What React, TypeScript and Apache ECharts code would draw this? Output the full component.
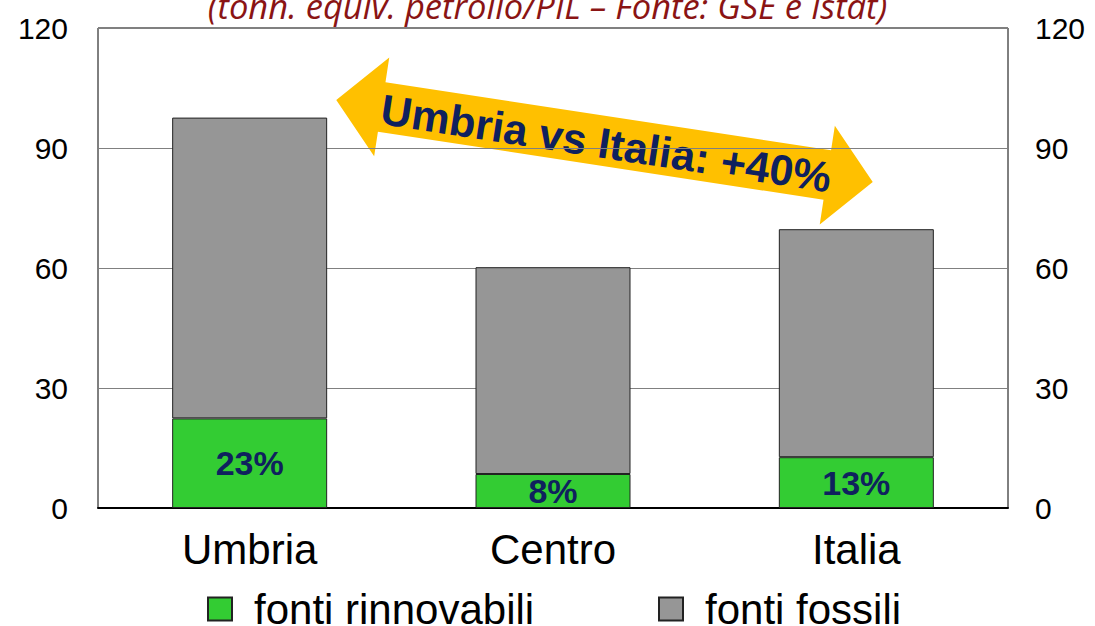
import React, { useEffect, useRef } from 'react';
import * as echarts from 'echarts';

const categories = ['Umbria', 'Centro', 'Italia'];
const rinnovabili = [22.4, 8.5, 12.7];
const fossili = [75.2, 51.7, 57.0];
const shareLabels = ['23%', '8%', '13%'];
const yMin = 0;
const yMax = 120;
const yInterval = 30;
const seriesNames = ['fonti rinnovabili', 'fonti fossili'];
const titleText = '(tonn. equiv. petrolio/PIL – Fonte: GSE e Istat)';
const arrowText = 'Umbria vs Italia: +40%';

export default function App() {
  const ref = useRef<HTMLDivElement>(null);
  useEffect(() => {
    const chart = echarts.init(ref.current as HTMLDivElement, null, { renderer: 'svg' });
    const font = '"Liberation Sans", Arial, sans-serif';
    const ang = (-8.7 * Math.PI) / 180;
    const L = 271.5, hl = 46, hw = 50, bt = 25;
    const arrowPts = [
      [-L, 0], [-L + hl, -hw], [-L + hl, -bt], [L - hl, -bt], [L - hl, -hw],
      [L, 0], [L - hl, hw], [L - hl, bt], [-L + hl, bt], [-L + hl, hw],
    ];
    const yAxisBase = {
      type: 'value',
      min: yMin,
      max: yMax,
      interval: yInterval,
      axisLine: { show: false },
      axisTick: { show: false },
      axisLabel: { fontSize: 30, color: '#000', fontFamily: font },
    };
    const legendText = { fontSize: 42, color: '#000', fontFamily: font, padding: [0, 0, 0, 17] };
    chart.setOption({
      animation: false,
      backgroundColor: '#fff',
      grid: {
        left: 98, right: 87, top: 28, bottom: 118,
        show: true, borderColor: '#000', borderWidth: 1, backgroundColor: 'transparent',
      },
      xAxis: {
        type: 'category',
        data: categories,
        axisLine: { show: true, lineStyle: { color: '#000', width: 2 } },
        axisTick: { show: false },
        axisLabel: { fontSize: 42, color: '#000', fontFamily: font, margin: 20 },
      },
      yAxis: [
        { ...yAxisBase, position: 'left', axisLabel: { ...yAxisBase.axisLabel, margin: 30 },
          splitLine: { show: true, lineStyle: { color: '#808080', width: 1 } } },
        { ...yAxisBase, position: 'right', axisLabel: { ...yAxisBase.axisLabel, margin: 27 },
          splitLine: { show: false } },
      ],
      legend: [
        {
          data: [seriesNames[0]], left: 202, top: 583, itemWidth: 24, itemHeight: 23,
          icon: 'rect', textStyle: legendText,
        },
        {
          data: [seriesNames[1]], left: 653, top: 583, itemWidth: 24, itemHeight: 23,
          icon: 'rect', textStyle: legendText,
        },
      ],
      series: [
        {
          name: seriesNames[0], type: 'bar', stack: 'tot', data: rinnovabili, barWidth: 155,
          itemStyle: { color: '#33cc33', borderColor: '#222', borderWidth: 1 },
          label: {
            show: true, position: 'inside',
            formatter: (p: any) => shareLabels[p.dataIndex],
            fontSize: 34, fontWeight: 'bold', color: '#0f215e', fontFamily: font,
          },
        },
        {
          name: seriesNames[1], type: 'bar', stack: 'tot', data: fossili, barWidth: 155,
          itemStyle: { color: '#969696', borderColor: '#222', borderWidth: 1 },
        },
      ],
      graphic: [
        {
          type: 'text', x: 547.5, y: 5, z: 100,
          style: {
            text: titleText, textAlign: 'center', textVerticalAlign: 'middle',
            fontSize: 34.5, fontStyle: 'italic', fontFamily: '"Open Sans", sans-serif', fill: '#8a1414',
          },
        },
        {
          type: 'group', x: 604.5, y: 141, rotation: ang, z: 100,
          children: [
            { type: 'polygon', shape: { points: arrowPts }, style: { fill: '#ffc000' } },
            {
              type: 'text', x: 2, y: 2,
              style: {
                text: arrowText, textAlign: 'center', textVerticalAlign: 'middle',
                fontSize: 43, fontWeight: 'bold', fontFamily: font, fill: '#0f215e',
              },
            },
          ],
        },
      ],
    });
    return () => chart.dispose();
  }, []);
  return <div ref={ref} style={{ position: 'absolute', left: 0, top: 0, width: 1095, height: 626 }} />;
}
